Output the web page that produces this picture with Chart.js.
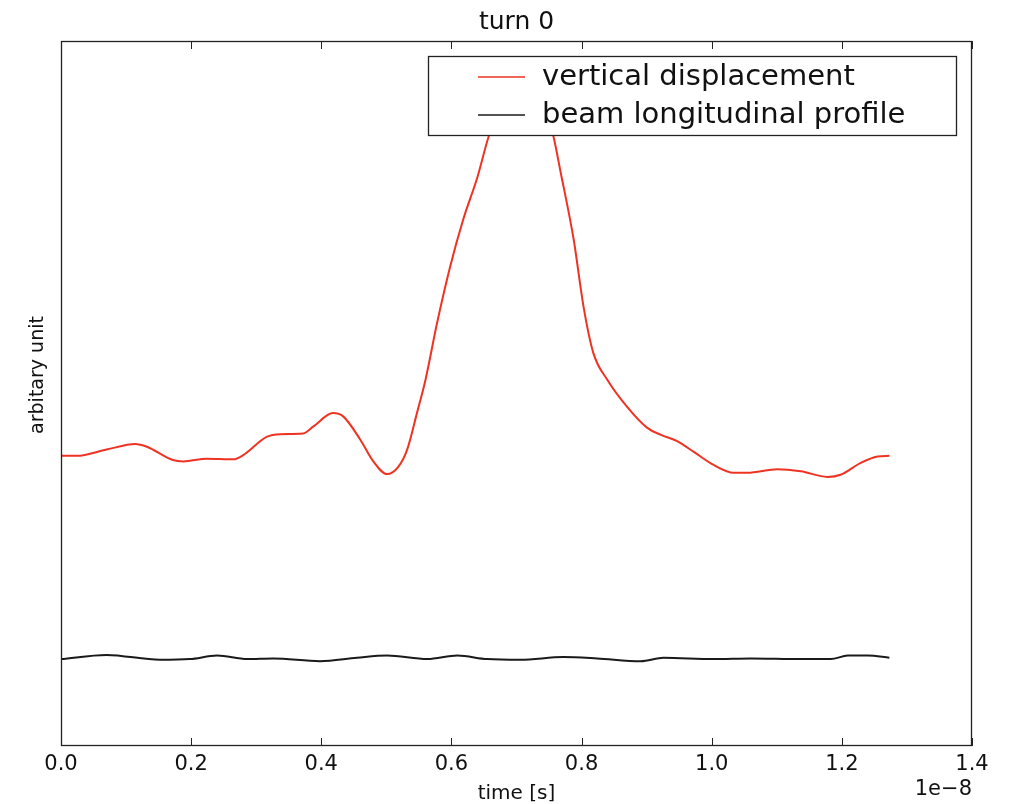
<!DOCTYPE html>
<html>
<head>
<meta charset="utf-8">
<title>turn 0</title>
<script src="https://cdn.jsdelivr.net/npm/chart.js@4/dist/chart.umd.min.js"></script>
<style>
  html, body { margin: 0; padding: 0; background: #ffffff; }
  canvas { display: block; }
</style>
</head>
<body>
<canvas id="chart" width="1013" height="804"></canvas>
<script>
// time axis (units of 1e-8 s) and signal levels (arbitrary units)
const dispTime = [0, 0.024, 0.070, 0.114, 0.132, 0.172, 0.188, 0.224, 0.265, 0.280,
  0.316, 0.337, 0.372, 0.388, 0.418, 0.434, 0.460, 0.480, 0.501, 0.518,
  0.532, 0.547, 0.560, 0.578, 0.598, 0.618, 0.640, 0.657, 0.683, 0.706,
  0.732, 0.757, 0.768, 0.788, 0.803, 0.818, 0.840, 0.870, 0.901, 0.922,
  0.947, 0.972, 1.003, 1.034, 1.055, 1.101, 1.137, 1.178, 1.198, 1.229,
  1.255, 1.273];
const dispValue = [0.408, 0.408, 0.417, 0.425, 0.421, 0.402, 0.400, 0.404, 0.403, 0.409,
  0.435, 0.439, 0.440, 0.450, 0.469, 0.464, 0.431, 0.400, 0.382, 0.392,
  0.417, 0.469, 0.516, 0.598, 0.678, 0.745, 0.806, 0.863, 0.925, 0.952,
  0.945, 0.863, 0.812, 0.716, 0.621, 0.555, 0.516, 0.478, 0.448, 0.438,
  0.429, 0.414, 0.395, 0.384, 0.384, 0.389, 0.386, 0.378, 0.381, 0.398,
  0.407, 0.408];

const profTime = [0, 0.070, 0.152, 0.198, 0.240, 0.286, 0.326, 0.398, 0.455, 0.501,
  0.563, 0.609, 0.655, 0.706, 0.772, 0.824, 0.891, 0.926, 1.003, 1.060,
  1.137, 1.183, 1.209, 1.240, 1.273];
const profValue = [0.118, 0.124, 0.117, 0.118, 0.123, 0.118, 0.119, 0.115, 0.120, 0.123,
  0.118, 0.123, 0.118, 0.117, 0.121, 0.119, 0.115, 0.120, 0.118, 0.119,
  0.118, 0.118, 0.123, 0.123, 0.120];

const xTickStep = 0.2;
const seriesNames = ['vertical displacement', 'beam longitudinal profile'];
const seriesColors = ['#ee3322', '#1a1a1a'];

const FONT = '"DejaVu Sans", "Liberation Sans", sans-serif';

function pts(xs, ys) { return xs.map((x, i) => ({ x: x, y: ys[i] })); }

// frame, inward ticks, titles and the boxed legend inside the axes
const decor = {
  id: 'decor',
  afterDatasetsDraw(chart) {
    const ctx = chart.ctx;
    const a = chart.chartArea;
    const xs = chart.scales.x;

    // legend box (opaque, covers the curve beneath it)
    const lx = 428.5, ly = 56.5, lw = 528, lh = 79;
    ctx.save();
    ctx.fillStyle = '#ffffff';
    ctx.fillRect(lx, ly, lw, lh);
    ctx.strokeStyle = '#222222';
    ctx.lineWidth = 1.3;
    ctx.strokeRect(lx, ly, lw, lh);
    const rows = [77, 115];
    ctx.font = '29px ' + FONT;
    ctx.textBaseline = 'alphabetic';
    ctx.textAlign = 'left';
    rows.forEach((ry, i) => {
      ctx.strokeStyle = seriesColors[i];
      ctx.lineWidth = 1.6;
      ctx.beginPath();
      ctx.moveTo(478, ry);
      ctx.lineTo(525, ry);
      ctx.stroke();
      ctx.fillStyle = '#111111';
      ctx.fillText(seriesNames[i], 542, ry + 7.5);
    });
    ctx.restore();

    // axes frame
    ctx.save();
    ctx.strokeStyle = '#222222';
    ctx.lineWidth = 1.3;
    ctx.strokeRect(a.left + 0.5, a.top + 0.5, a.right - a.left - 1, a.bottom - a.top - 1);

    // inward ticks on top and bottom
    ctx.lineWidth = 1;
    xs.ticks.forEach(t => {
      const px = Math.round(xs.getPixelForValue(t.value)) + 0.5;
      ctx.beginPath();
      ctx.moveTo(px, a.bottom);
      ctx.lineTo(px, a.bottom - 8);
      ctx.moveTo(px, a.top);
      ctx.lineTo(px, a.top + 8);
      ctx.stroke();
    });

    // titles
    ctx.fillStyle = '#111111';
    ctx.textAlign = 'center';
    ctx.textBaseline = 'alphabetic';
    ctx.font = '25px ' + FONT;
    ctx.fillText('turn 0', (a.left + a.right) / 2, 29);

    ctx.font = '20px ' + FONT;
    ctx.fillText('time [s]', (a.left + a.right) / 2, 799);

    ctx.font = '21px ' + FONT;
    ctx.textAlign = 'right';
    ctx.fillText('1e\u22128', a.right, 795);

    ctx.save();
    ctx.translate(43, 375);
    ctx.rotate(-Math.PI / 2);
    ctx.textAlign = 'center';
    ctx.font = '19px ' + FONT;
    ctx.fillText('arbitary unit', 0, 0);
    ctx.restore();
    ctx.restore();
  }
};

new Chart(document.getElementById('chart'), {
  type: 'line',
  data: {
    datasets: [
      {
        label: seriesNames[0],
        data: pts(dispTime, dispValue),
        borderColor: seriesColors[0],
        borderWidth: 2,
        pointRadius: 0,
        cubicInterpolationMode: 'monotone',
        fill: false
      },
      {
        label: seriesNames[1],
        data: pts(profTime, profValue),
        borderColor: seriesColors[1],
        borderWidth: 2,
        pointRadius: 0,
        cubicInterpolationMode: 'monotone',
        fill: false
      }
    ]
  },
  options: {
    responsive: false,
    animation: false,
    devicePixelRatio: 1,
    events: [],
    layout: { padding: { top: 41, right: 41, left: 0, bottom: 0 } },
    plugins: {
      legend: { display: false },
      title: { display: false },
      tooltip: { enabled: false }
    },
    scales: {
      x: {
        type: 'linear',
        min: 0,
        max: 1.4,
        grid: { display: false, drawTicks: false },
        border: { display: false },
        ticks: {
          stepSize: xTickStep,
          autoSkip: false,
          maxRotation: 0,
          padding: 6,
          color: '#111111',
          font: { family: FONT, size: 21 },
          callback: v => v.toFixed(1)
        },
        afterFit: s => { s.height = 58; }
      },
      y: {
        min: -0.006,
        max: 1.0,
        grid: { display: false, drawTicks: false },
        border: { display: false },
        ticks: { display: false },
        afterFit: s => { s.width = 61; }
      }
    }
  },
  plugins: [decor]
});
</script>
</body>
</html>
